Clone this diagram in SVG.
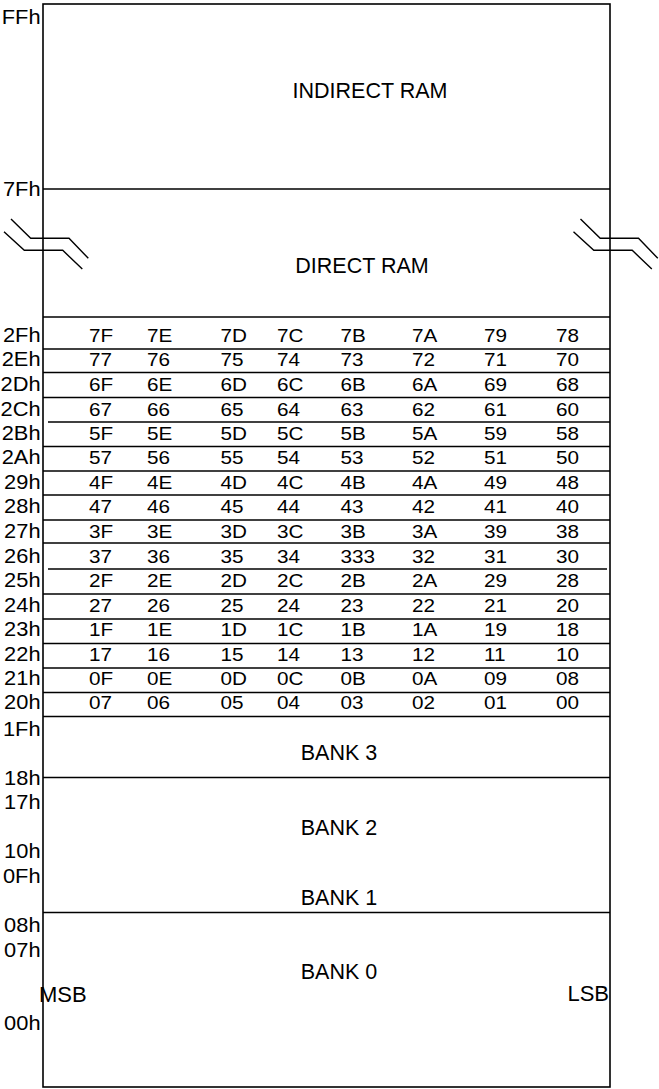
<svg xmlns="http://www.w3.org/2000/svg" xmlns:xlink="http://www.w3.org/1999/xlink" width="659" height="1089" viewBox="0 0 659 1089">
<style>
.ln{stroke:#000;stroke-width:1.4;fill:none}
.bd{stroke:#000;stroke-width:1.6;fill:none}
.lbl{font-family:"Liberation Sans",Arial,sans-serif;font-size:19.5px;fill:#000;text-anchor:end}
.cell{font-family:"Liberation Sans",Arial,sans-serif;font-size:18px;fill:#000}
.ctr{font-family:"Liberation Sans",Arial,sans-serif;font-size:21.5px;fill:#000;text-anchor:middle}
.side{font-family:"Liberation Sans",Arial,sans-serif;font-size:22px;fill:#000}
</style>
<defs>
<path id="brk" class="ln" d="M11,219 L30.7,238.3 L69,238.3 L88.3,258.3 M4,231.7 L24.3,250.3 L62.7,250.3 L82.3,269"/>
</defs>
<rect width="659" height="1089" fill="#fff"/>

<g id="frame">
<rect class="bd" x="43" y="4" width="567" height="1083"/>
</g>

<g id="connectors">
<line class="ln" x1="43" y1="189" x2="610" y2="189"/>
<line class="ln" x1="43" y1="317" x2="610" y2="317"/>
<line class="ln" x1="43" y1="349" x2="610" y2="349"/>
<line class="ln" x1="43" y1="372.5" x2="610" y2="372.5"/>
<line class="ln" x1="43" y1="397.5" x2="610" y2="397.5"/>
<line class="ln" x1="48" y1="422" x2="610" y2="422"/>
<line class="ln" x1="43" y1="446.5" x2="610" y2="446.5"/>
<line class="ln" x1="43" y1="471" x2="610" y2="471"/>
<line class="ln" x1="43" y1="495" x2="610" y2="495"/>
<line class="ln" x1="43" y1="520" x2="610" y2="520"/>
<line class="ln" x1="43" y1="543" x2="610" y2="543"/>
<line class="ln" x1="48" y1="569" x2="607" y2="569"/>
<line class="ln" x1="43" y1="594" x2="610" y2="594"/>
<line class="ln" x1="43" y1="619" x2="610" y2="619"/>
<line class="ln" x1="43" y1="643.5" x2="610" y2="643.5"/>
<line class="ln" x1="43" y1="668" x2="610" y2="668"/>
<line class="ln" x1="43" y1="692.5" x2="610" y2="692.5"/>
<line class="ln" x1="43" y1="716.5" x2="610" y2="716.5"/>
<line class="ln" x1="43" y1="777.5" x2="610" y2="777.5"/>
<line class="ln" x1="43" y1="912.5" x2="610" y2="912.5"/>
</g>

<g id="break-left"><use xlink:href="#brk" href="#brk"/></g>
<g id="break-right"><use xlink:href="#brk" href="#brk" x="569.5"/></g>

<g id="indirect-ram"><text class="ctr" x="370" y="98.3">INDIRECT RAM</text></g>
<g id="direct-ram"><text class="ctr" x="362" y="272.5">DIRECT RAM</text></g>
<g id="bank3"><text class="ctr" x="339" y="760">BANK 3</text></g>
<g id="bank2"><text class="ctr" x="339" y="835">BANK 2</text></g>
<g id="bank1"><text class="ctr" x="339" y="905">BANK 1</text></g>
<g id="bank0"><text class="ctr" x="339" y="979">BANK 0</text></g>

<g id="msb-lsb">
<text class="side" x="39" y="1001.5">MSB</text>
<text class="side" x="609" y="1001" text-anchor="end">LSB</text>
</g>

<g id="address-labels" transform="scale(1.12 1)">
<text class="lbl" x="36.2" y="24">FFh</text>
<text class="lbl" x="36.2" y="196">7Fh</text>
<text class="lbl" x="36.2" y="342">2Fh</text>
<text class="lbl" x="36.2" y="366.5">2Eh</text>
<text class="lbl" x="36.2" y="391.5">2Dh</text>
<text class="lbl" x="36.2" y="416">2Ch</text>
<text class="lbl" x="36.2" y="440">2Bh</text>
<text class="lbl" x="36.2" y="464.5">2Ah</text>
<text class="lbl" x="36.2" y="489">29h</text>
<text class="lbl" x="36.2" y="513.5">28h</text>
<text class="lbl" x="36.2" y="538.5">27h</text>
<text class="lbl" x="36.2" y="563">26h</text>
<text class="lbl" x="36.2" y="587.5">25h</text>
<text class="lbl" x="36.2" y="612">24h</text>
<text class="lbl" x="36.2" y="636.5">23h</text>
<text class="lbl" x="36.2" y="661">22h</text>
<text class="lbl" x="36.2" y="685.5">21h</text>
<text class="lbl" x="36.2" y="709.5">20h</text>
<text class="lbl" x="36.2" y="736">1Fh</text>
<text class="lbl" x="36.2" y="785">18h</text>
<text class="lbl" x="36.2" y="809">17h</text>
<text class="lbl" x="36.2" y="858">10h</text>
<text class="lbl" x="36.2" y="883">0Fh</text>
<text class="lbl" x="36.2" y="932">08h</text>
<text class="lbl" x="36.2" y="957">07h</text>
<text class="lbl" x="36.2" y="1030.5">00h</text>
</g>

<g id="bit-area" class="cell" transform="scale(1.15 1)">
<text y="342"><tspan x="77.4">7F</tspan><tspan x="127.8">7E</tspan><tspan x="191.7">7D</tspan><tspan x="240.9">7C</tspan><tspan x="296.1">7B</tspan><tspan x="358.3">7A</tspan><tspan x="420.9">79</tspan><tspan x="483.5">78</tspan></text>
<text y="366.5"><tspan x="77.4">77</tspan><tspan x="127.8">76</tspan><tspan x="191.7">75</tspan><tspan x="240.9">74</tspan><tspan x="296.1">73</tspan><tspan x="358.3">72</tspan><tspan x="420.9">71</tspan><tspan x="483.5">70</tspan></text>
<text y="391.5"><tspan x="77.4">6F</tspan><tspan x="127.8">6E</tspan><tspan x="191.7">6D</tspan><tspan x="240.9">6C</tspan><tspan x="296.1">6B</tspan><tspan x="358.3">6A</tspan><tspan x="420.9">69</tspan><tspan x="483.5">68</tspan></text>
<text y="416"><tspan x="77.4">67</tspan><tspan x="127.8">66</tspan><tspan x="191.7">65</tspan><tspan x="240.9">64</tspan><tspan x="296.1">63</tspan><tspan x="358.3">62</tspan><tspan x="420.9">61</tspan><tspan x="483.5">60</tspan></text>
<text y="440"><tspan x="77.4">5F</tspan><tspan x="127.8">5E</tspan><tspan x="191.7">5D</tspan><tspan x="240.9">5C</tspan><tspan x="296.1">5B</tspan><tspan x="358.3">5A</tspan><tspan x="420.9">59</tspan><tspan x="483.5">58</tspan></text>
<text y="464.5"><tspan x="77.4">57</tspan><tspan x="127.8">56</tspan><tspan x="191.7">55</tspan><tspan x="240.9">54</tspan><tspan x="296.1">53</tspan><tspan x="358.3">52</tspan><tspan x="420.9">51</tspan><tspan x="483.5">50</tspan></text>
<text y="489"><tspan x="77.4">4F</tspan><tspan x="127.8">4E</tspan><tspan x="191.7">4D</tspan><tspan x="240.9">4C</tspan><tspan x="296.1">4B</tspan><tspan x="358.3">4A</tspan><tspan x="420.9">49</tspan><tspan x="483.5">48</tspan></text>
<text y="513.5"><tspan x="77.4">47</tspan><tspan x="127.8">46</tspan><tspan x="191.7">45</tspan><tspan x="240.9">44</tspan><tspan x="296.1">43</tspan><tspan x="358.3">42</tspan><tspan x="420.9">41</tspan><tspan x="483.5">40</tspan></text>
<text y="538.5"><tspan x="77.4">3F</tspan><tspan x="127.8">3E</tspan><tspan x="191.7">3D</tspan><tspan x="240.9">3C</tspan><tspan x="296.1">3B</tspan><tspan x="358.3">3A</tspan><tspan x="420.9">39</tspan><tspan x="483.5">38</tspan></text>
<text y="563"><tspan x="77.4">37</tspan><tspan x="127.8">36</tspan><tspan x="191.7">35</tspan><tspan x="240.9">34</tspan><tspan x="296.1">333</tspan><tspan x="358.3">32</tspan><tspan x="420.9">31</tspan><tspan x="483.5">30</tspan></text>
<text y="587.5"><tspan x="77.4">2F</tspan><tspan x="127.8">2E</tspan><tspan x="191.7">2D</tspan><tspan x="240.9">2C</tspan><tspan x="296.1">2B</tspan><tspan x="358.3">2A</tspan><tspan x="420.9">29</tspan><tspan x="483.5">28</tspan></text>
<text y="612"><tspan x="77.4">27</tspan><tspan x="127.8">26</tspan><tspan x="191.7">25</tspan><tspan x="240.9">24</tspan><tspan x="296.1">23</tspan><tspan x="358.3">22</tspan><tspan x="420.9">21</tspan><tspan x="483.5">20</tspan></text>
<text y="636.5"><tspan x="77.4">1F</tspan><tspan x="127.8">1E</tspan><tspan x="191.7">1D</tspan><tspan x="240.9">1C</tspan><tspan x="296.1">1B</tspan><tspan x="358.3">1A</tspan><tspan x="420.9">19</tspan><tspan x="483.5">18</tspan></text>
<text y="661"><tspan x="77.4">17</tspan><tspan x="127.8">16</tspan><tspan x="191.7">15</tspan><tspan x="240.9">14</tspan><tspan x="296.1">13</tspan><tspan x="358.3">12</tspan><tspan x="420.9">11</tspan><tspan x="483.5">10</tspan></text>
<text y="685.5"><tspan x="77.4">0F</tspan><tspan x="127.8">0E</tspan><tspan x="191.7">0D</tspan><tspan x="240.9">0C</tspan><tspan x="296.1">0B</tspan><tspan x="358.3">0A</tspan><tspan x="420.9">09</tspan><tspan x="483.5">08</tspan></text>
<text y="709.5"><tspan x="77.4">07</tspan><tspan x="127.8">06</tspan><tspan x="191.7">05</tspan><tspan x="240.9">04</tspan><tspan x="296.1">03</tspan><tspan x="358.3">02</tspan><tspan x="420.9">01</tspan><tspan x="483.5">00</tspan></text>
</g>
</svg>
